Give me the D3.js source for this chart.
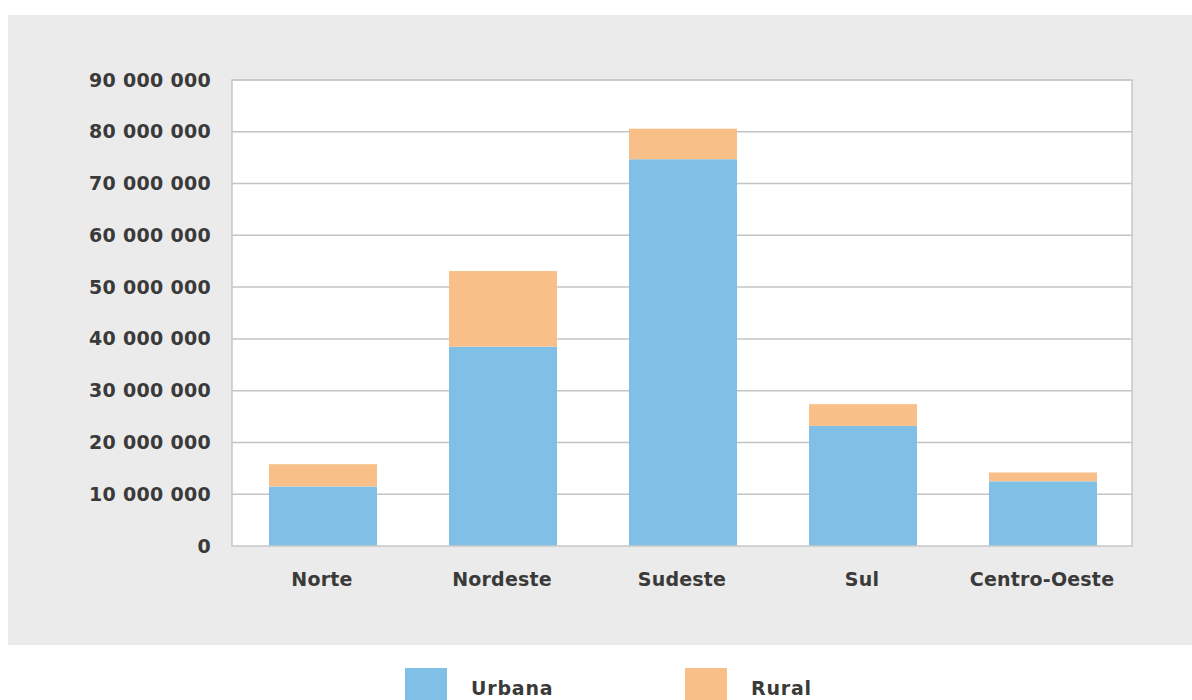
<!DOCTYPE html>
<html>
<head>
<meta charset="utf-8">
<script src="https://cdn.jsdelivr.net/npm/d3@7"></script>
<style>
  html, body { margin: 0; padding: 0; background: #ffffff; }
  svg { display: block; }
  text { font-family: "DejaVu Sans", Verdana, sans-serif; font-weight: bold; fill: #3a3a3a; }
</style>
</head>
<body>
<svg id="chart" width="1192" height="700"></svg>
<script>
// Population by region, urban and rural
const regions = ["Norte", "Nordeste", "Sudeste", "Sul", "Centro-Oeste"];
const urbana = [11500000, 38500000, 74700000, 23200000, 12500000];
const rural  = [4300000, 14600000, 5900000, 4200000, 1700000];
const yTicks = [0, 10000000, 20000000, 30000000, 40000000, 50000000, 60000000, 70000000, 80000000, 90000000];
const seriesNames = ["Urbana", "Rural"];
const seriesColors = ["#80c0e6", "#f8c088"];

const svg = d3.select("#chart");
const W = 1192, H = 700;

// grey panel behind the chart
svg.append("rect").attr("x", 8).attr("y", 15).attr("width", W - 8).attr("height", 630).attr("fill", "#ebebeb");

const plot = { left: 232, right: 1132, top: 80, bottom: 546 };

const x = d3.scaleBand().domain(regions).range([plot.left, plot.right]).paddingInner(0.4).paddingOuter(0.2);
const y = d3.scaleLinear().domain([0, 90000000]).range([plot.bottom, plot.top]);

// white plotting area
svg.append("rect")
  .attr("x", plot.left).attr("y", plot.top)
  .attr("width", plot.right - plot.left).attr("height", plot.bottom - plot.top)
  .attr("fill", "#ffffff");

// horizontal gridlines
svg.append("g").selectAll("line").data(yTicks.slice(1)).join("line")
  .attr("x1", plot.left).attr("x2", plot.right)
  .attr("y1", d => y(d)).attr("y2", d => y(d))
  .attr("stroke", "#c4c4c4").attr("stroke-width", 1.5);

// stacked bars
const rows = regions.map((r, i) => ({ region: r, Urbana: urbana[i], Rural: rural[i] }));
const stacked = d3.stack().keys(seriesNames)(rows);
svg.append("g").selectAll("g").data(stacked).join("g")
  .attr("fill", (d, i) => seriesColors[i])
  .selectAll("rect").data(d => d).join("rect")
  .attr("x", d => x(d.data.region) + 1)
  .attr("width", x.bandwidth())
  .attr("y", d => y(d[1]))
  .attr("height", d => y(d[0]) - y(d[1]));

// frame of the plotting area
svg.append("rect")
  .attr("x", plot.left).attr("y", plot.top)
  .attr("width", plot.right - plot.left).attr("height", plot.bottom - plot.top)
  .attr("fill", "none").attr("stroke", "#c8c8c8").attr("stroke-width", 1.5);

const labelStyle = sel => sel
  .attr("font-size", "19px")
  .attr("fill", "#3a3a3a")
  .style("font-family", "'DejaVu Sans', Verdana, sans-serif")
  .style("font-weight", "bold");

// y axis labels
const fmt = v => d3.format(",")(v).replace(/,/g, " ");
const yAxis = d3.axisLeft(y).tickValues(yTicks).tickFormat(fmt).tickSize(0).tickPadding(21);
const gy = svg.append("g").attr("transform", `translate(${plot.left},0)`).call(yAxis);
gy.select(".domain").remove();
gy.selectAll("text").call(labelStyle).attr("letter-spacing", "0.3px");

// x axis labels
const xAxis = d3.axisBottom(x).tickSize(0).tickPadding(27);
const gx = svg.append("g").attr("transform", `translate(0,${plot.bottom})`).call(xAxis);
gx.select(".domain").remove();
gx.selectAll("text").call(labelStyle).attr("letter-spacing", "0.2px");

// legend
const legendX = [405, 685];
const legend = svg.append("g").selectAll("g").data(seriesNames).join("g")
  .attr("transform", (d, i) => `translate(${legendX[i]},668)`);
legend.append("rect").attr("width", 42).attr("height", 40).attr("fill", (d, i) => seriesColors[i]);
legend.append("text")
  .attr("x", 66).attr("y", 20).attr("dy", "0.35em")
  .call(labelStyle).attr("letter-spacing", "0.8px")
  .text(d => d);
</script>
</body>
</html>
